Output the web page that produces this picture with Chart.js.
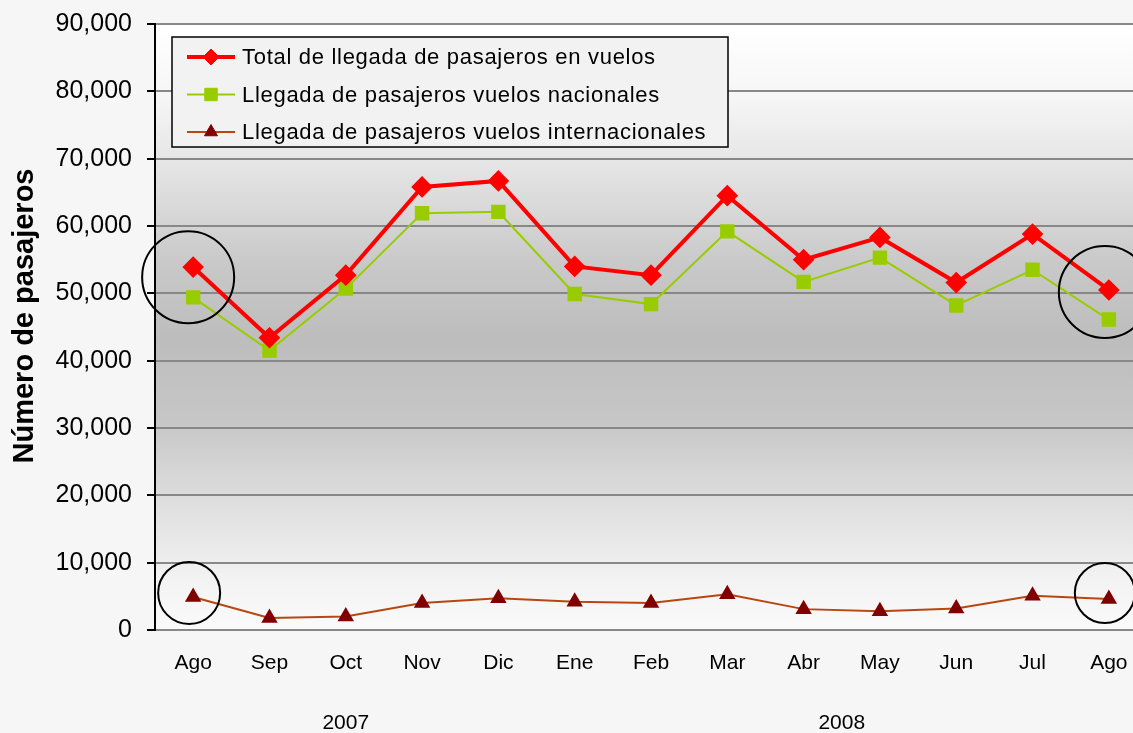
<!DOCTYPE html>
<html>
<head>
<meta charset="utf-8">
<script src="https://cdn.jsdelivr.net/npm/chart.js@4/dist/chart.umd.min.js"></script>
<style>
  html, body { margin: 0; padding: 0; overflow: hidden; background: #f6f6f7; }
  #wrap { width: 1159px; height: 733px; }
  #chart { width: 1159px; height: 733px; }
</style>
</head>
<body>
<div id="wrap"><canvas id="chart" width="1159" height="733"></canvas></div>
<script>
// datos
const meses = ['Ago', 'Sep', 'Oct', 'Nov', 'Dic', 'Ene', 'Feb', 'Mar', 'Abr', 'May', 'Jun', 'Jul', 'Ago'];
const anios = ['2007', '2008'];
const anioDesde = [0, 5];
const anioHasta = [4, 12];

const totalLlegadas = [53900, 43400, 52700, 65800, 66700, 54000, 52700, 64500, 55000, 58300, 51600, 58800, 50500];
const nacionales = [49400, 41500, 50700, 61900, 62100, 49900, 48400, 59200, 51700, 55300, 48200, 53500, 46100];
const internacionales = [4900, 1800, 2000, 4000, 4700, 4200, 4000, 5300, 3100, 2800, 3200, 5100, 4600];

const nombres = [
  'Total de llegada de pasajeros en vuelos',
  'Llegada de pasajeros vuelos nacionales',
  'Llegada de pasajeros vuelos internacionales'
];

const FONT = "'Liberation Sans', Arial, sans-serif";

// círculos resaltando el primer y último mes (índice, valor, radio px, desplazamiento x)
const circulos = [
  { i: 0, v: 52400, r: 46, dx: -5 },
  { i: 12, v: 50200, r: 46, dx: -4 },
  { i: 0, v: 5500, r: 31, dx: -4 },
  { i: 12, v: 5500, r: 30, dx: -4 }
];

// --- fondo, leyenda, círculos y rótulos extra ---
const decoraciones = {
  id: 'decoraciones',
  beforeDraw(chart) {
    const { ctx, chartArea: a } = chart;
    ctx.save();
    ctx.fillStyle = '#f6f6f7';
    ctx.fillRect(0, 0, chart.width, chart.height);
    const g = ctx.createLinearGradient(0, a.top, 0, a.bottom);
    g.addColorStop(0, '#ffffff');
    g.addColorStop(0.12, '#f6f6f6');
    g.addColorStop(0.25, '#e2e2e2');
    g.addColorStop(0.4, '#c8c8c8');
    g.addColorStop(0.52, '#bdbdbd');
    g.addColorStop(0.65, '#c6c6c6');
    g.addColorStop(0.8, '#e0e0e0');
    g.addColorStop(0.92, '#f3f3f3');
    g.addColorStop(1, '#fafafa');
    ctx.fillStyle = g;
    ctx.fillRect(a.left, a.top, a.right - a.left, a.bottom - a.top);
    ctx.restore();
  },
  afterDraw(chart) {
    const { ctx } = chart;
    const x = chart.scales.x, y = chart.scales.y;
    ctx.save();

    // círculos
    ctx.strokeStyle = '#000';
    ctx.lineWidth = 2;
    circulos.forEach(c => {
      ctx.beginPath();
      ctx.arc(x.getPixelForValue(c.i) + c.dx, y.getPixelForValue(c.v), c.r, 0, Math.PI * 2);
      ctx.stroke();
    });

    // leyenda
    ctx.fillStyle = '#f2f2f2';
    ctx.fillRect(172, 37, 556, 110);
    ctx.strokeStyle = '#000';
    ctx.lineWidth = 1.5;
    ctx.strokeRect(172, 37, 556, 110);
    chart.data.datasets.forEach((ds, k) => {
      const ly = 57 + k * 37.5;
      ctx.strokeStyle = ds.borderColor;
      ctx.lineWidth = ds.borderWidth;
      ctx.beginPath();
      ctx.moveTo(187, ly);
      ctx.lineTo(235, ly);
      ctx.stroke();
      ctx.fillStyle = ds.pointBackgroundColor;
      ctx.strokeStyle = ds.pointBorderColor;
      ctx.lineWidth = 1;
      Chart.helpers.drawPoint(ctx, { pointStyle: ds.pointStyle, radius: ds.pointRadius, rotation: 0, borderWidth: 1 }, 211, ly);
      ctx.fillStyle = '#000';
      ctx.font = '22px ' + FONT;
      ctx.letterSpacing = '0.7px';
      ctx.textAlign = 'left';
      ctx.textBaseline = 'middle';
      ctx.fillText(ds.label, 242, ly + 1);
    });
    ctx.letterSpacing = '0px';

    // años debajo de los meses
    ctx.fillStyle = '#000';
    ctx.font = '21px ' + FONT;
    ctx.textAlign = 'center';
    ctx.textBaseline = 'middle';
    anios.forEach((an, k) => {
      const cx = (x.getPixelForValue(anioDesde[k]) + x.getPixelForValue(anioHasta[k])) / 2;
      ctx.fillText(an, cx, 723);
    });

    // título del eje Y
    ctx.translate(25, 316);
    ctx.rotate(-Math.PI / 2);
    ctx.font = 'bold 29px ' + FONT;
    ctx.fillText('Número de pasajeros', 0, 0);
    ctx.restore();
  }
};

new Chart(document.getElementById('chart'), {
  type: 'line',
  data: {
    labels: meses,
    datasets: [
      {
        label: nombres[0],
        data: totalLlegadas,
        borderColor: '#ff0000',
        borderWidth: 4,
        pointStyle: 'rectRot',
        pointRadius: 8,
        pointBackgroundColor: '#ff0000',
        pointBorderColor: '#ff0000',
        tension: 0
      },
      {
        label: nombres[1],
        data: nacionales,
        borderColor: '#99cc00',
        borderWidth: 2,
        pointStyle: 'rect',
        pointRadius: 8.8,
        pointBackgroundColor: '#99cc00',
        pointBorderColor: '#99cc00',
        tension: 0
      },
      {
        label: nombres[2],
        data: internacionales,
        borderColor: '#b8470f',
        borderWidth: 2,
        pointStyle: 'triangle',
        pointRadius: 7.5,
        pointBackgroundColor: '#800000',
        pointBorderColor: '#800000',
        tension: 0
      }
    ]
  },
  options: {
    responsive: false,
    animation: false,
    layout: { padding: { top: 24, right: 0, left: 0, bottom: 0 } },
    plugins: {
      legend: { display: false },
      tooltip: { enabled: false }
    },
    scales: {
      x: {
        offset: true,
        grid: { display: false, drawTicks: false },
        border: { display: false },
        ticks: { color: '#000', font: { family: FONT, size: 21 }, padding: 21, maxRotation: 0, autoSkip: false },
        afterFit(s) { s.height = 103; }
      },
      y: {
        min: 0,
        max: 90000,
        ticks: {
          stepSize: 10000,
          color: '#000',
          padding: 15,
          font: { family: FONT, size: 25 },
          callback: v => v.toLocaleString('en-US')
        },
        grid: { color: '#888888', lineWidth: 2, tickLength: 8, tickColor: '#000', tickWidth: 2 },
        border: { color: '#000', width: 2 },
        afterFit(s) { s.width = 155; s.paddingTop = 0; s.paddingBottom = 0; }
      }
    }
  },
  plugins: [decoraciones]
});
</script>
</body>
</html>
